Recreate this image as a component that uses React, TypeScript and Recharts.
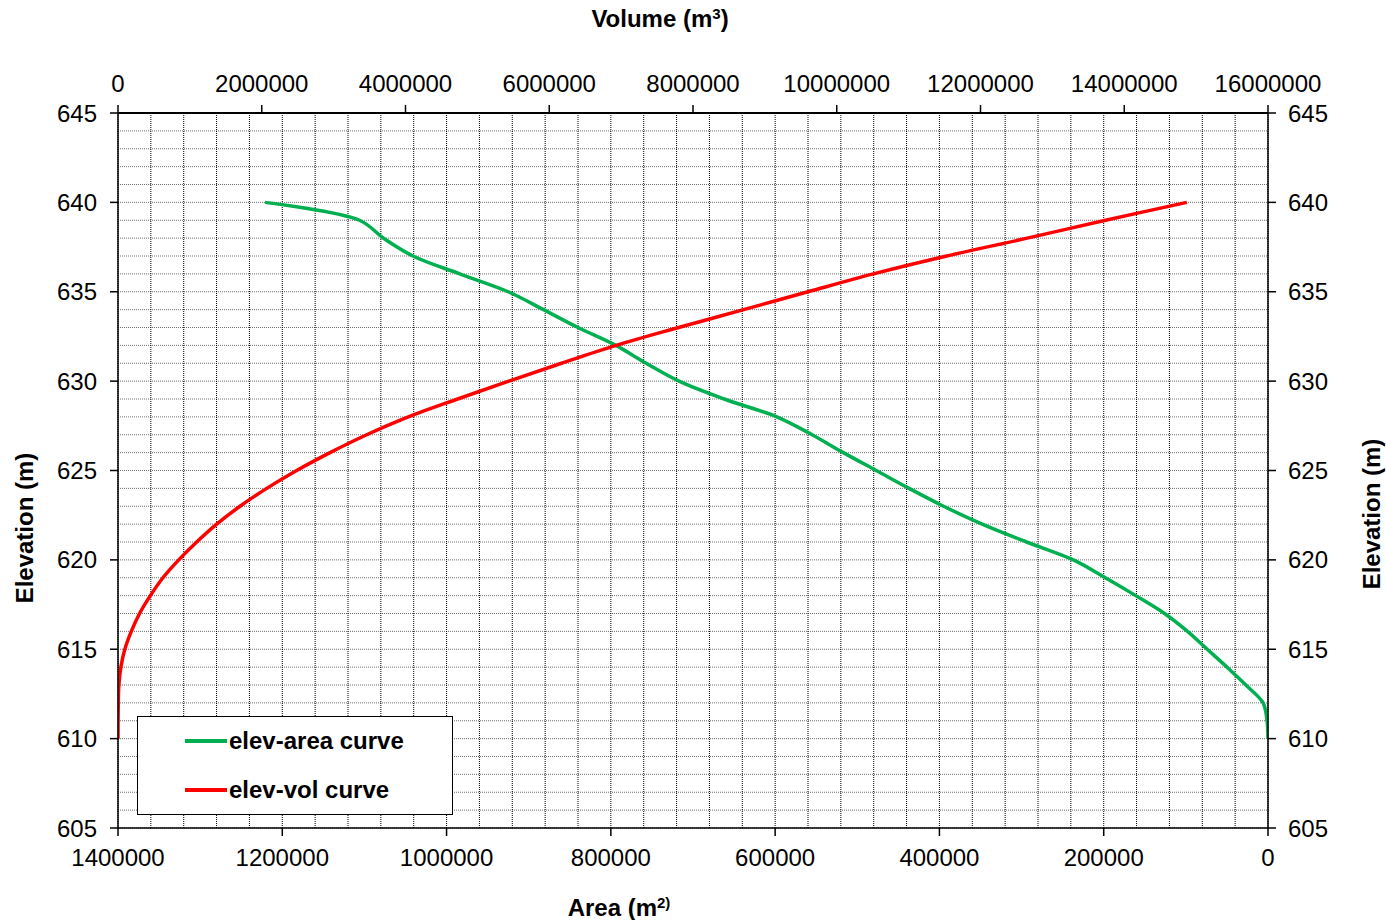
import React from 'react';
import { ComposedChart, Line, XAxis, YAxis, CartesianGrid, Legend } from 'recharts';

const FONT = '"Liberation Sans", Arial, sans-serif';

// elevation (m) of each reading
const elevations = [
  610, 611, 612, 613, 614, 615, 616, 617, 618, 619, 620, 621, 622, 623, 624, 625,
  626, 627, 628, 629, 630, 631, 632, 633, 634, 635, 636, 637, 638, 639, 640,
];

// surface area (m2) at each elevation
const areaValues = [
  0, 1200, 6000, 27000, 50000, 74000, 98000, 126000, 161000, 198000, 237000, 294000,
  348000, 395000, 437000, 477000, 517000, 555000, 598000, 662000, 717000, 757000,
  794000, 840000, 882000, 925000, 984000, 1041000, 1077000, 1106000, 1221000,
];

// storage volume (m3) at each elevation
const volumeValues = [
  0, 500, 4000, 12000, 40000, 95000, 185000, 300000, 450000, 625000, 845000, 1095000,
  1373000, 1697000, 2069000, 2486000, 2950000, 3460000, 4040000, 4725000, 5440000,
  6170000, 6930000, 7800000, 8704000, 9600000, 10510000, 11530000, 12650000, 13740000,
  14870000,
];

const elevationTicks = [605, 610, 615, 620, 625, 630, 635, 640, 645];
const areaTicks = [0, 200000, 400000, 600000, 800000, 1000000, 1200000, 1400000];
const volumeTicks = [
  0, 2000000, 4000000, 6000000, 8000000, 10000000, 12000000, 14000000, 16000000,
];

// minor grid: every 1 m and every 40000 m2
const gridElevationValues = Array.from({ length: 41 }, (_, i) => 605 + i);
const gridAreaValues = Array.from({ length: 36 }, (_, i) => i * 40000);

const data = elevations.map((elev, i) => ({
  elev,
  area: areaValues[i],
  vol: volumeValues[i],
}));

const tickStyle = { fill: '#000', fontSize: 24, fontFamily: FONT };

// centripetal catmull-rom, close to a spreadsheet "smoothed line"
const smoothCurve = (context: any) => {
  let pts: number[][] = [];
  const dist = (a: number[], b: number[]) => Math.hypot(b[0] - a[0], b[1] - a[1]);
  return {
    areaStart() {},
    areaEnd() {},
    lineStart() {
      pts = [];
    },
    point(x: number, y: number) {
      pts.push([+x, +y]);
    },
    lineEnd() {
      if (!pts.length) return;
      context.moveTo(pts[0][0], pts[0][1]);
      for (let i = 0; i < pts.length - 1; i++) {
        const p0 = pts[i - 1];
        const p1 = pts[i];
        const p2 = pts[i + 1];
        const p3 = pts[i + 2];
        const l12 = Math.sqrt(dist(p1, p2));
        const l12sq = dist(p1, p2);
        let c1 = p1;
        let c2 = p2;
        if (p0) {
          const l01 = Math.sqrt(dist(p0, p1));
          const l01sq = dist(p0, p1);
          if (l01 > 1e-9) {
            const a = 2 * l01sq + 3 * l01 * l12 + l12sq;
            const n = 3 * l01 * (l01 + l12);
            c1 = [(p1[0] * a - p0[0] * l12sq + p2[0] * l01sq) / n, (p1[1] * a - p0[1] * l12sq + p2[1] * l01sq) / n];
          }
        }
        if (p3) {
          const l23 = Math.sqrt(dist(p2, p3));
          const l23sq = dist(p2, p3);
          if (l23 > 1e-9) {
            const b = 2 * l23sq + 3 * l23 * l12 + l12sq;
            const m = 3 * l23 * (l23 + l12);
            c2 = [(p2[0] * b + p1[0] * l23sq - p3[0] * l12sq) / m, (p2[1] * b + p1[1] * l23sq - p3[1] * l12sq) / m];
          }
        }
        context.bezierCurveTo(c1[0], c1[1], c2[0], c2[1], p2[0], p2[1]);
      }
    },
  };
};

const title = (x: number, y: number, main: string, sup: string, tail: string, rotate = false) => () => (
  <text
    x={x}
    y={y}
    textAnchor="middle"
    fontSize={24}
    fontWeight="bold"
    fill="#000"
    fontFamily={FONT}
    transform={rotate ? `rotate(-90 ${x} ${y})` : undefined}
  >
    {main}
    {sup ? <tspan dy={-8} fontSize={15}>{sup}</tspan> : null}
    {tail ? <tspan dy={8} fontSize={24}>{tail}</tspan> : null}
  </text>
);

const hLine = (p: any) => (
  <line key={p.key} x1={p.x1} y1={p.y1} x2={p.x2} y2={p.y2} stroke="#6e6e6e" strokeWidth={1} strokeDasharray="1 1" />
);
const vLine = (p: any) => (
  <line key={p.key} x1={p.x1} y1={p.y1} x2={p.x2} y2={p.y2} stroke="#000" strokeWidth={1} strokeDasharray="1 1" />
);

const renderLegend = (props: any) => {
  const { payload = [] } = props;
  return (
    <div
      style={{
        position: 'relative',
        width: 316,
        height: 99,
        border: '1.5px solid #000',
        background: '#fff',
        boxSizing: 'border-box',
        fontFamily: FONT,
      }}
    >
      {payload.map((entry: any, i: number) => (
        <div
          key={entry.value}
          style={{
            position: 'absolute',
            left: 47,
            top: 23.5 + i * 49 - 15,
            height: 30,
            display: 'flex',
            alignItems: 'center',
            whiteSpace: 'nowrap',
          }}
        >
          <span style={{ display: 'inline-block', width: 42, height: 4, background: entry.color, marginRight: 2 }} />
          <span style={{ fontSize: 24, fontWeight: 'bold', color: '#000', lineHeight: '30px' }}>{entry.value}</span>
        </div>
      ))}
    </div>
  );
};

const App: React.FC = () => {
  return (
    <div style={{ position: 'absolute', left: 0, top: 0, width: 1386, height: 920, background: '#fff' }}>
      <ComposedChart
        width={1386}
        height={920}
        data={data}
        layout="vertical"
        margin={{ top: 0, right: 0, bottom: 0, left: 0 }}
        style={{ fontFamily: FONT }}
      >
        <CartesianGrid
          xAxisId="area"
          yAxisId="left"
          horizontalValues={gridElevationValues}
          verticalValues={gridAreaValues}
          horizontal={hLine}
          vertical={vLine}
        />

        <XAxis
          xAxisId="vol"
          orientation="top"
          type="number"
          domain={[0, 16000000]}
          ticks={volumeTicks}
          interval={0}
          height={113}
          tickSize={8}
          tickMargin={13}
          tick={tickStyle}
          axisLine={{ stroke: '#000', strokeWidth: 2 }}
          tickLine={{ stroke: '#000', strokeWidth: 1.5 }}
          allowDataOverflow
          label={title(660, 26.5, 'Volume (m', '3', ')')}
        />
        <XAxis
          xAxisId="area"
          orientation="bottom"
          type="number"
          domain={[0, 1400000]}
          ticks={areaTicks}
          reversed
          interval={0}
          height={92}
          tickSize={8}
          tickMargin={13}
          tick={tickStyle}
          axisLine={{ stroke: '#000', strokeWidth: 1.5 }}
          tickLine={{ stroke: '#000', strokeWidth: 1.5 }}
          allowDataOverflow
          label={title(619, 915.5, 'Area (m', '2)', '')}
        />
        <YAxis
          yAxisId="left"
          orientation="left"
          type="number"
          dataKey="elev"
          domain={[605, 645]}
          ticks={elevationTicks}
          reversed
          interval={0}
          width={118}
          tickSize={8}
          tickMargin={13}
          tick={tickStyle}
          axisLine={{ stroke: '#000', strokeWidth: 1.5 }}
          tickLine={{ stroke: '#000', strokeWidth: 1.5 }}
          allowDataOverflow
          label={title(33, 528, 'Elevation (m)', '', '', true)}
        />
        <YAxis
          yAxisId="right"
          orientation="right"
          type="number"
          dataKey="elev"
          domain={[605, 645]}
          ticks={elevationTicks}
          reversed
          interval={0}
          width={118}
          tickSize={8}
          tickMargin={12}
          tick={tickStyle}
          axisLine={{ stroke: '#000', strokeWidth: 1.5 }}
          tickLine={{ stroke: '#000', strokeWidth: 1.5 }}
          allowDataOverflow
          label={title(1380, 514, 'Elevation (m)', '', '', true)}
        />

        <Line
          xAxisId="area"
          yAxisId="left"
          dataKey="area"
          name="elev-area curve"
          type={smoothCurve as any}
          stroke="#00B050"
          strokeWidth={3.5}
          dot={false}
          activeDot={false}
          isAnimationActive={false}
        />
        <Line
          xAxisId="vol"
          yAxisId="left"
          dataKey="vol"
          name="elev-vol curve"
          type={smoothCurve as any}
          stroke="#FF0000"
          strokeWidth={3.5}
          dot={false}
          activeDot={false}
          isAnimationActive={false}
        />

        <Legend
          layout="vertical"
          align="center"
          verticalAlign="middle"
          content={renderLegend}
          wrapperStyle={{ left: 137, top: 716, width: 316, height: 99 }}
        />
      </ComposedChart>
    </div>
  );
};

export default App;
